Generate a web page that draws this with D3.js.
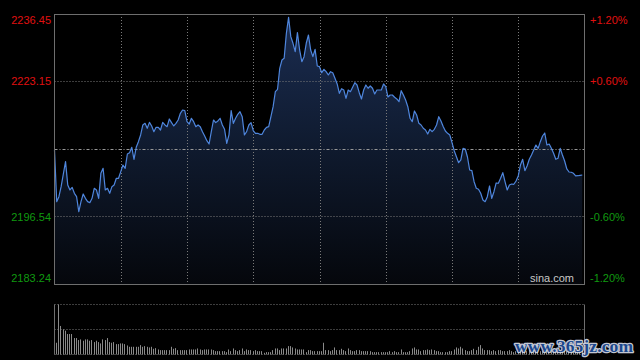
<!DOCTYPE html>
<html><head><meta charset="utf-8">
<script src="https://cdn.jsdelivr.net/npm/d3@7"></script>
<style>html,body{margin:0;padding:0;background:#000;overflow:hidden}svg{display:block}</style>
</head><body><svg id="c" width="640" height="360"></svg>
<script>
// ---- data ----
const prevClose = 2209.845;
const priceTicks = [2236.45, 2223.15, 2196.54, 2183.24];
const priceTickLabels = ["2236.45", "2223.15", "2196.54", "2183.24"];
const pctTickLabels = ["+1.20%", "+0.60%", "-0.60%", "-1.20%"];
const gridMinutes = [30, 60, 90, 120, 150, 180, 210];
const prices = [
2209.65,2199.47,2200.45,2202.42,2204.92,2207.35,2202.75,2201.77,2202.29,2201.11,
2200.45,2197.50,2199.47,2200.98,2200.12,2199.47,2199.27,2200.12,2202.09,2201.77,
2200.12,2205.05,2206.04,2201.77,2202.09,2201.11,2202.42,2202.75,2204.07,2204.07,
2205.38,2206.69,2206.04,2208.86,2209.12,2210.18,2207.81,2210.18,2211.29,2212.61,
2214.58,2214.91,2213.92,2215.10,2214.38,2213.26,2214.12,2214.12,2213.59,2215.10,
2214.58,2214.25,2215.76,2215.04,2214.38,2214.91,2215.56,2216.88,2217.53,2217.40,
2215.23,2214.77,2215.89,2215.23,2214.25,2214.58,2214.25,2213.26,2212.41,2211.49,
2210.83,2213.26,2215.56,2215.04,2215.37,2215.89,2214.58,2213.72,2210.96,2212.61,
2217.40,2214.91,2215.89,2216.68,2217.20,2216.22,2212.61,2213.26,2214.58,2215.04,
2213.49,2212.94,2212.94,2212.74,2212.74,2213.59,2214.12,2214.24,2216.21,2218.18,
2221.14,2221.61,2225.75,2227.39,2227.72,2232.65,2235.80,2231.98,2230.68,2229.02,
2232.77,2229.36,2227.05,2228.04,2230.68,2232.31,2229.36,2228.04,2229.49,2226.20,
2226.07,2224.88,2225.55,2225.08,2224.43,2225.08,2224.88,2223.78,2222.66,2220.82,
2221.73,2221.47,2219.84,2221.47,2221.14,2222.01,2222.91,2222.46,2220.94,2219.70,
2221.47,2222.46,2221.81,2222.26,2221.81,2220.69,2221.47,2221.47,2221.47,2222.66,
2222.12,2220.09,2220.49,2220.49,2220.04,2219.70,2219.17,2221.34,2220.49,2219.50,
2218.18,2215.90,2215.23,2217.34,2216.55,2214.91,2214.58,2213.93,2213.59,2212.80,
2213.73,2213.26,2213.73,2214.58,2216.21,2215.36,2214.28,2213.39,2212.94,2212.61,
2211.09,2209.51,2208.33,2207.15,2207.68,2209.98,2209.85,2208.27,2205.71,2205.57,
2203.40,2202.10,2201.90,2201.12,2199.80,2199.46,2200.45,2202.56,2200.13,2201.43,
2203.15,2203.09,2204.07,2205.18,2203.40,2201.77,2202.75,2202.95,2202.89,2203.54,
2204.53,2206.69,2207.82,2205.57,2206.50,2207.82,2208.66,2209.65,2210.63,2209.98,
2211.29,2212.41,2213.00,2210.63,2210.83,2209.98,2209.00,2207.82,2208.01,2209.98,
2208.66,2207.48,2205.91,2205.31,2205.26,2205.06,2204.53,2204.58,2204.66,2204.72
];
const volumes = [
35,149,85,75,71,61,61,61,49,49, 43,45,41,45,45,41,43,37,41,37,
33,45,43,49,37,35,37,31,31,33, 33,31,27,23,23,23,23,23,28,23,
25,23,21,23,17,19,15,13,13,13, 13,13,23,17,19,13,13,13,13,13,
15,15,15,15,18,15,13,15,15,15, 15,13,10,10,10,10,10,7,15,10,
18,13,10,13,
18,10,15,13,13,10,13,10,10,10, 5,7,7,7,13,18,18,13,18,18,
18,25,25,21,18,15,15,15,15,7, 13,13,10,10,10,10,10,35,13,13,
10,13,21,13,13,17,13,10,18,13, 10,10,13,13,10,10,10,10,10,7,
7,7,7,7,7,7,7,10,7,10, 7,7,15,7,7,7,10,18,21,15,
15,10,13,13,15,13,15,13,10,10, 7,
7,7,7,10,10,15,21,18,23,18, 13,10,10,13,17,13,23,28,18,13,
13,13,10,13,10,13,13,10,10,10, 13,10,7,10,7,
10,10,13,10,13,10,10,13,13,10, 10,13,10,10,13,10,13,13,10,10,
13,10,13,15,13,10,13,15,13,18
];
const sourceLabel = "sina.com";
const watermark = "www.365jz.com";

// ---- layout ----
const svg = d3.select("#c");
svg.append("rect").attr("width", 640).attr("height", 360).attr("fill", "#000");
const L = 54.5, R = 584.5, T = 14, B = 284;
const VT = 304.5, VB = 354.5;
const x = d3.scaleLinear().domain([0, 240]).range([L, R]);
const y = d3.scaleLinear().domain([2183.24, 2236.45]).range([B, T]);
const yv = d3.scaleLinear().domain([0, d3.max(volumes)]).range([VB, VT]);
const red = "#e01010", green = "#109a10";
const gridCol = "#7a7a7a";

// gradient
const defs = svg.append("defs");
const grad = defs.append("linearGradient").attr("id", "fillG")
  .attr("gradientUnits", "userSpaceOnUse").attr("x1", 0).attr("x2", 0).attr("y1", T).attr("y2", B);
grad.append("stop").attr("offset", "0").attr("stop-color", "#1b2d52");
grad.append("stop").attr("offset", "0.5").attr("stop-color", "#0f1a2e");
grad.append("stop").attr("offset", "1").attr("stop-color", "#05070c");

// area + line
const area = d3.area().x((d, i) => x(i)).y0(B).y1(d => y(d));
svg.append("path").datum(prices).attr("d", area).attr("fill", "url(#fillG)");

// grid lines main
const g = svg.append("g");
gridMinutes.forEach(m => {
  const xx = Math.round(x(m)) + 0.5;
  g.append("line").attr("x1", xx).attr("x2", xx).attr("y1", T).attr("y2", B)
    .attr("stroke", gridCol).attr("stroke-width", 1).attr("stroke-dasharray", "1,2");
});
[priceTicks[1], priceTicks[2]].forEach(v => {
  const yy = Math.round(y(v) - 0.5) + 0.5;
  g.append("line").attr("x1", L).attr("x2", R).attr("y1", yy).attr("y2", yy)
    .attr("stroke", gridCol).attr("stroke-dasharray", "1,2");
});
const yc = Math.round(y(prevClose)) + 0.5;
g.append("line").attr("x1", L).attr("x2", R).attr("y1", yc).attr("y2", yc)
  .attr("stroke", "#9a9a9a").attr("stroke-dasharray", "3,2,1,2");

const line = d3.line().x((d, i) => x(i)).y(d => y(d));
svg.append("path").datum(prices).attr("d", line).attr("fill", "none")
  .attr("stroke", "#4f86dd").attr("stroke-width", 1.2).attr("stroke-linejoin", "round");

// frame
svg.append("rect").attr("x", L).attr("y", T + 0.5).attr("width", R - L).attr("height", B - T)
  .attr("fill", "none").attr("stroke", "#6e6e6e").attr("stroke-width", 1);

// tick labels
priceTicks.forEach((v, i) => {
  const col = v > prevClose ? red : green;
  let yy = y(v);
  let dy = i === 0 ? 10 : (i === priceTicks.length - 1 ? -2 : 4);
  svg.append("text").attr("x", 51).attr("y", yy + dy).attr("text-anchor", "end")
    .attr("font-family", "Liberation Sans, Arial, sans-serif").attr("font-size", 11)
    .attr("fill", col).text(priceTickLabels[i]);
  svg.append("text").attr("x", 590).attr("y", yy + dy).attr("text-anchor", "start")
    .attr("font-family", "Liberation Sans, Arial, sans-serif").attr("font-size", 11)
    .attr("fill", col).text(pctTickLabels[i]);
});

svg.append("text").attr("x", 574).attr("y", 282).attr("text-anchor", "end")
  .attr("font-family", "Liberation Sans, Arial, sans-serif").attr("font-size", 11)
  .attr("fill", "#c8c8c8").text(sourceLabel);

// volume panel
const vg = svg.append("g");
[VT, (VT + VB) / 2, VB].forEach(yy => {
  vg.append("line").attr("x1", L).attr("x2", R).attr("y1", yy).attr("y2", yy)
    .attr("stroke", gridCol).attr("stroke-dasharray", "1,2");
});
vg.selectAll("line.bar").data(volumes).enter().append("line").attr("class", "bar")
  .attr("x1", (d, i) => Math.round(x(i) + 1.5) + 0.5)
  .attr("x2", (d, i) => Math.round(x(i) + 1.5) + 0.5)
  .attr("y1", VB).attr("y2", d => yv(d))
  .attr("stroke", "#8a8a8a").attr("stroke-width", 1);
[L, R].forEach(xx => {
  vg.append("line").attr("x1", xx).attr("x2", xx).attr("y1", VT).attr("y2", VB)
    .attr("stroke", "#6e6e6e");
});

// watermark
svg.append("text").attr("x", 515).attr("y", 352).attr("textLength", 118)
  .attr("font-family", "Liberation Serif, serif").attr("font-weight", "bold").attr("font-size", 17.5)
  .attr("fill", "#1d4f9e").attr("stroke", "#d8dde8").attr("stroke-width", 2.5)
  .attr("paint-order", "stroke").attr("stroke-linejoin", "round").attr("opacity", 0.9)
  .text(watermark);
</script></body></html>
